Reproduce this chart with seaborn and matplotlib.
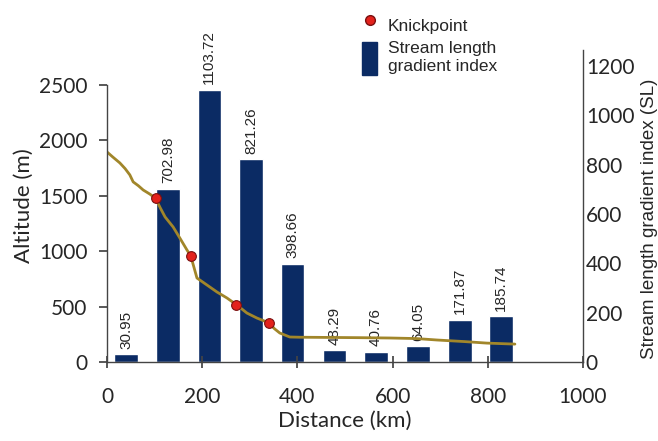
import numpy as np
import pandas as pd
import matplotlib.pyplot as plt
import seaborn as sns
from matplotlib.lines import Line2D
from matplotlib.patches import Patch

# SL bars (segment centres along the river, km)
seg_km = [40, 128, 215, 303, 390, 478, 565, 653, 741, 828]
sl_index = [30.95, 702.98, 1103.72, 821.26, 398.66, 48.29, 40.76, 64.05, 171.87, 185.74]

# longitudinal profile
prof_km = [0, 12, 27, 38, 48, 55, 66, 76, 90, 102, 112, 122, 139, 153, 168, 176,
           183, 189, 200, 210, 231, 252, 273, 294, 315, 336, 341, 352, 363, 384,
           405, 468, 530, 595, 650, 693, 750, 798, 857]
prof_alt = [1895, 1850, 1796, 1745, 1688, 1625, 1590, 1552, 1515, 1477, 1390, 1309,
            1218, 1119, 1011, 957, 850, 758, 725, 695, 632, 578, 514, 442, 397, 361,
            349, 300, 262, 226, 224, 222, 220, 217, 212, 199, 185, 171, 162]

# knickpoints
knick_km = [102, 176, 272, 341]
knick_alt = [1477, 957, 512, 349]

navy = "#0b2b64"
line_col = "#a1862a"
red = "#e3221c"

sns.set_theme(style="white")
plt.rcParams["font.family"] = ["Lato", "DejaVu Sans"]

fig = plt.figure(figsize=(6.58, 4.41), dpi=100)
ax = fig.add_axes([0.1626, 0.179, 0.886 - 0.1626, 0.887 - 0.179])
ax2 = ax.twinx()

bars = pd.DataFrame({"km": seg_km, "sl": sl_index})
sns.barplot(data=bars, x="km", y="sl", native_scale=True, width=0.57,
            color=navy, saturation=1, ax=ax2)
ax2.bar_label(ax2.containers[0], labels=[f"{v:.2f}" for v in sl_index],
              rotation=90, padding=4, fontsize=11, family="Liberation Sans")

prof = pd.DataFrame({"km": prof_km, "alt": prof_alt})
sns.lineplot(data=prof, x="km", y="alt", color=line_col, lw=2, ax=ax)
ax.plot(knick_km, knick_alt, "o", color=red, mec="#7a1010", mew=0.8, ms=7)

ax.set_zorder(ax2.get_zorder() + 1)
ax.patch.set_visible(False)

ax.set_xlim(0, 1000)
ax.set_ylim(0, 2816)
ax2.set_ylim(0, 1265)
ax.set_xticks(range(0, 1001, 200))
ax.set_yticks(range(0, 2501, 500))
ax2.set_yticks(range(0, 1201, 200))

for s in ["top", "right"]:
    ax.spines[s].set_visible(False)
for s in ["top", "left", "bottom"]:
    ax2.spines[s].set_visible(False)
ax.spines["left"].set_bounds(0, 2500)
for sp in [ax.spines["left"], ax.spines["bottom"], ax2.spines["right"]]:
    sp.set_color("#444444")
    sp.set_linewidth(1)

ax.tick_params(axis="x", direction="inout", length=8, color="#444444",
               labelsize=15, pad=14, bottom=True)
ax.tick_params(axis="y", direction="out", length=6, color="#444444",
               labelsize=15, pad=8, left=True)
ax2.tick_params(axis="y", length=0, labelsize=15, pad=2)

ax.set_xlabel("Distance (km)", fontsize=16, labelpad=3)
ax.set_ylabel("Altitude (m)", fontsize=16, labelpad=4)
ax2.set_ylabel("Stream length gradient index (SL)", fontsize=13.5,
               family="Liberation Sans", labelpad=5)
ax2.yaxis.label.set_y(0.458)
ax2.set_xlabel("")

handles = [Line2D([], [], marker="o", ls="", color=red, mec="#7a1010", ms=7),
           Patch(color=navy)]
fig.legend(handles, ["Knickpoint", "Stream length\ngradient index"],
           loc="upper left", bbox_to_anchor=(0.527, 1.015), frameon=False,
           prop={"family": "Liberation Sans", "size": 12.5},
           handlelength=0.85, handleheight=2.5, labelspacing=0.0,
           handletextpad=0.6)

fig.savefig("out.png", dpi=100)
